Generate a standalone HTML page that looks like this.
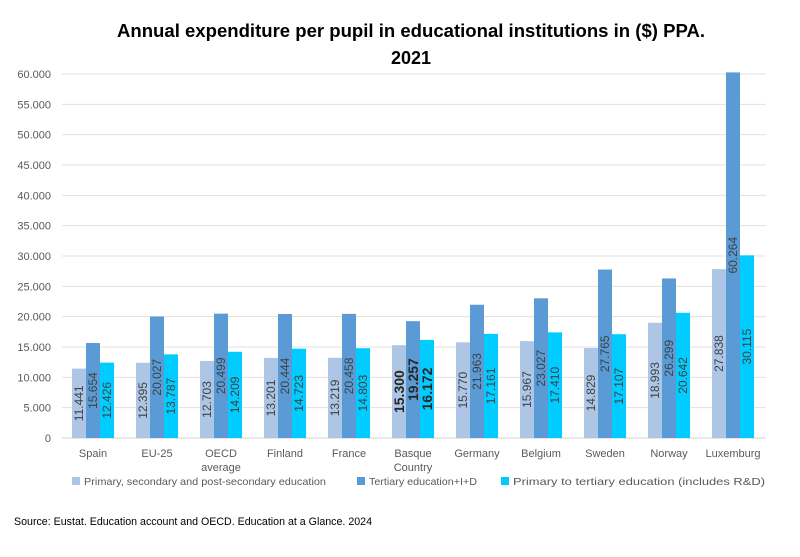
<!DOCTYPE html>
<html><head><meta charset="utf-8"><style>body{margin:0;background:#fff}svg{display:block}</style></head><body>
<svg width="800" height="557" xmlns="http://www.w3.org/2000/svg" font-family="Liberation Sans, sans-serif">
<rect width="800" height="557" fill="#fff"/>
<text x="411" y="37" text-anchor="middle" font-size="18" font-weight="bold" textLength="588" lengthAdjust="spacingAndGlyphs">Annual expenditure per pupil in educational institutions in ($) PPA.</text>
<text x="411" y="64" text-anchor="middle" font-size="18" font-weight="bold">2021</text>
<g id="grid" stroke="#e0e0e0" stroke-width="1"></g>
<g id="ylab" font-size="11" fill="#595959" text-anchor="end"></g>
<g id="bars"></g>
<g id="vals" font-size="12" fill="#404040"></g>
<g id="cats" font-size="11" fill="#595959" text-anchor="middle"></g>
<g font-size="10.5" fill="#595959">
<rect x="72" y="477" width="8" height="8" fill="#adc6e6"/>
<text x="84" y="485" textLength="242" lengthAdjust="spacingAndGlyphs">Primary, secondary and post-secondary education</text>
<rect x="357" y="477" width="8" height="8" fill="#5b9bd5"/>
<text x="369" y="485" textLength="108" lengthAdjust="spacingAndGlyphs">Tertiary education+I+D</text>
<rect x="501" y="477" width="8" height="8" fill="#00ccff"/>
<text x="513" y="485" textLength="252" lengthAdjust="spacingAndGlyphs">Primary to tertiary education (includes R&amp;D)</text>
</g>
<text x="14" y="525" font-size="11" fill="#000" textLength="358" lengthAdjust="spacingAndGlyphs">Source: Eustat. Education account and OECD. Education at a Glance. 2024</text>
<script>
const ns="http://www.w3.org/2000/svg";
function el(p,t,a,txt){const e=document.createElementNS(ns,t);for(const k in a)e.setAttribute(k,a[k]);if(txt!==undefined)e.textContent=txt;document.getElementById(p).appendChild(e);return e;}
const y0=438,k=364/60000;
for(let v=0;v<=60000;v+=5000){const y=y0-v*k;el('grid','line',{x1:62,x2:766,y1:y,y2:y,stroke:v==0?'#d0d0d0':'#e0e0e0'});
el('ylab','text',{x:51,y:y+4},v==0?'0':(v/1000).toFixed(3));}
const cats=[["Spain"],["EU-25"],["OECD","average"],["Finland"],["France"],["Basque","Country"],["Germany"],["Belgium"],["Sweden"],["Norway"],["Luxemburg"]];
const d=[[11441,15654,12426],[12395,20027,13787],[12703,20499,14209],[13201,20444,14723],[13219,20458,14803],[15300,19257,16172],[15770,21963,17161],[15967,23027,17410],[14829,27765,17107],[18993,26299,20642],[27838,60264,30115]];
const col=["#adc6e6","#5b9bd5","#00ccff"];
d.forEach((g,i)=>{const gx=72+64*i;
cats[i].forEach((t,j)=>el('cats','text',{x:gx+21,y:457+j*14},t));
g.forEach((v,j)=>{const x=gx+14*j,h=v*k;el('bars','rect',{x:x,y:y0-h,width:14,height:h,fill:col[j]});
const cx=x+7,cy=y0-h/2;const s=(v/1000).toFixed(3);
const bold=i==5;
const a={x:cx,y:cy+(bold?5:4),transform:`rotate(-90 ${cx} ${cy})`,'text-anchor':'middle'};
if(bold){a['font-size']=14;a['font-weight']='bold';a.fill='#262626';}
el('vals','text',a,s);});});
</script>
</svg>
</body></html>
